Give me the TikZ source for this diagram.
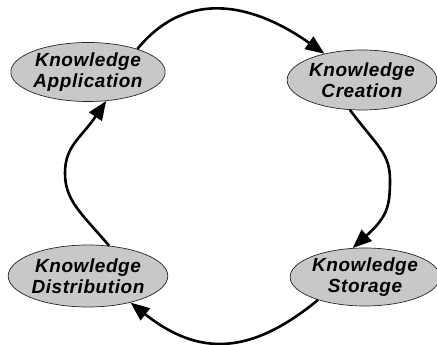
\documentclass[tikz,border=0pt]{standalone}
\usepackage{fontspec}
\setmainfont{Liberation Sans}
\usetikzlibrary{shapes.geometric,arrows.meta}
\begin{document}
\begin{tikzpicture}[x=1pt,y=1pt,
  kbox/.style={ellipse,draw=black!85,line width=0.7pt,fill={rgb,255:red,200;green,200;blue,200},
    inner sep=0pt,align=center,font=\fontsize{19}{21.5}\selectfont\addfontfeatures{LetterSpace=3}\bfseries\itshape},
  flow/.style={line width=2.6pt,-{Triangle[length=19pt,width=15pt]}}]
\useasboundingbox (0,0) rectangle (437,345);
\node[kbox,minimum width=150pt,minimum height=59pt] (app) at (88,273) {Knowledge\\Application};
\node[kbox,minimum width=148pt,minimum height=60pt] (cre) at (362,265) {Knowledge\\Creation};
\node[kbox,minimum width=150pt,minimum height=62pt] (dis) at (88,69) {Knowledge\\Distribution};
\node[kbox,minimum width=140pt,minimum height=58pt] (sto) at (365,68) {Knowledge\\Storage};
\draw[flow] (app.25) .. controls (189,359) and (257,339) .. (cre.145);
\draw[flow] (cre.248) .. controls (377,199) and (390,192) .. (390,165) .. controls (390,138) and (387,128) .. (sto.113);
\draw[flow] (sto.206) .. controls (251,-10) and (199,-12) .. (dis.328);
\draw[flow] (dis.55) .. controls (80,133) and (65,145) .. (65,172) .. controls (65,199) and (81,207) .. (app.302);
\end{tikzpicture}
\end{document}
